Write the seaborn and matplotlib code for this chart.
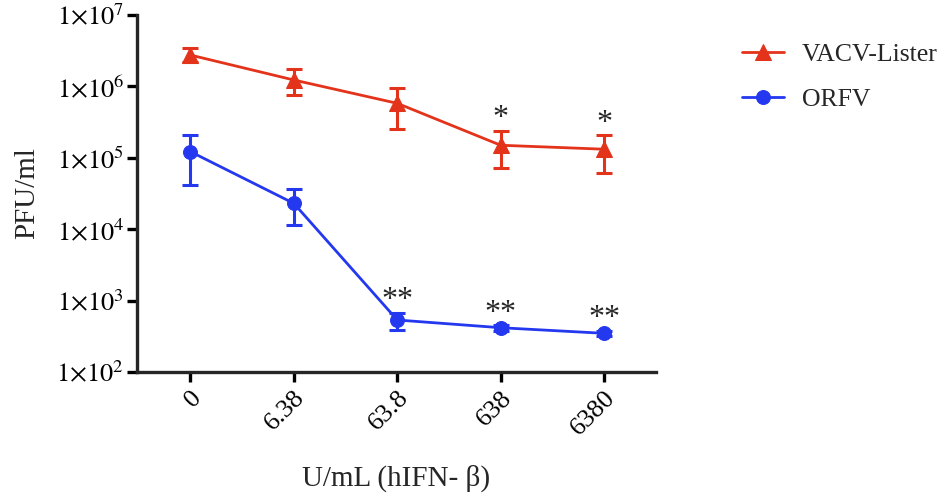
import matplotlib
matplotlib.use("Agg")
import matplotlib.pyplot as plt
import seaborn as sns
import numpy as np

# data
doses = ["0", "6.38", "63.8", "638", "6380"]

vacv_mean = [2.75e6, 1.23e6, 5.8e5, 1.5e5, 1.32e5]
vacv_hi = [3.5e6, 1.74e6, 9.6e5, 2.4e5, 2.1e5]
vacv_lo = [2.2e6, 7.7e5, 2.5e5, 7.1e4, 6.1e4]
vacv_stars = ["", "", "", "*", "*"]

orfv_mean = [1.22e5, 2.3e4, 535, 417, 348]
orfv_hi = [2.07e5, 3.6e4, 680, 455, 380]
orfv_lo = [4.1e4, 1.13e4, 390, 380, 318]
orfv_stars = ["", "", "**", "**", "**"]

red = "#E4331B"
blue = "#2438F0"

sns.set_style("ticks")
plt.rcParams["font.family"] = ["Liberation Serif", "DejaVu Serif"]
plt.rcParams["mathtext.fontset"] = "stix"

fig = plt.figure(figsize=(9.49, 5.01), dpi=100)
ax = fig.add_axes([0.144, 0.2575, 0.547, 0.7125])

def draw(mean, hi, lo, stars, color, marker, ms, label):
    sns.lineplot(x=doses, y=mean, color=color, marker=marker, markersize=ms,
                 markeredgecolor=color, linewidth=2.0, label=label, ax=ax)
    x = np.arange(len(doses))
    yerr = [np.array(mean) - np.array(lo), np.array(hi) - np.array(mean)]
    ax.errorbar(x, mean, yerr=yerr, fmt="none", ecolor=color, elinewidth=2.2,
                capsize=6, capthick=2.2)
    for xi, h, s in zip(x, hi, stars):
        if s:
            ax.annotate(s, (xi, h), xytext=(0, -2), textcoords="offset points",
                        ha="center", va="bottom", fontsize=23)

draw(vacv_mean, vacv_hi, vacv_lo, vacv_stars, red, "^", 11, "VACV-Lister")
draw(orfv_mean, orfv_hi, orfv_lo, orfv_stars, blue, "o", 10, "ORFV")

ax.set_yscale("log")
ax.set_ylim(1e2, 1e7)
ax.set_xlim(-0.52, 4.5)
ax.set_yticks([1e2, 1e3, 1e4, 1e5, 1e6, 1e7])
ax.set_yticklabels([r"$1{\times}10^{%d}$" % k for k in range(2, 8)], fontsize=19)
ax.minorticks_off()
ax.set_xticks(range(len(doses)))
ax.set_xticklabels(doses, rotation=45, ha="right", rotation_mode="anchor", fontsize=19)

for side in ["left", "bottom"]:
    ax.spines[side].set_linewidth(2.4)
sns.despine(ax=ax)
ax.tick_params(width=2.4, length=7, colors="black")
ax.tick_params(axis="y", pad=2)

ax.set_ylabel("PFU/ml", fontsize=21, labelpad=12)
ax.set_xlabel("U/mL (hIFN- β)", fontsize=21, labelpad=18)

h, l = ax.get_legend_handles_labels()
ax.get_legend().remove()
fig.legend(h, l, loc="upper left", bbox_to_anchor=(0.758, 0.96), frameon=False,
           fontsize=18.5, handlelength=1.6, handletextpad=0.7, labelspacing=0.85)

fig.savefig("out.png", dpi=100)
